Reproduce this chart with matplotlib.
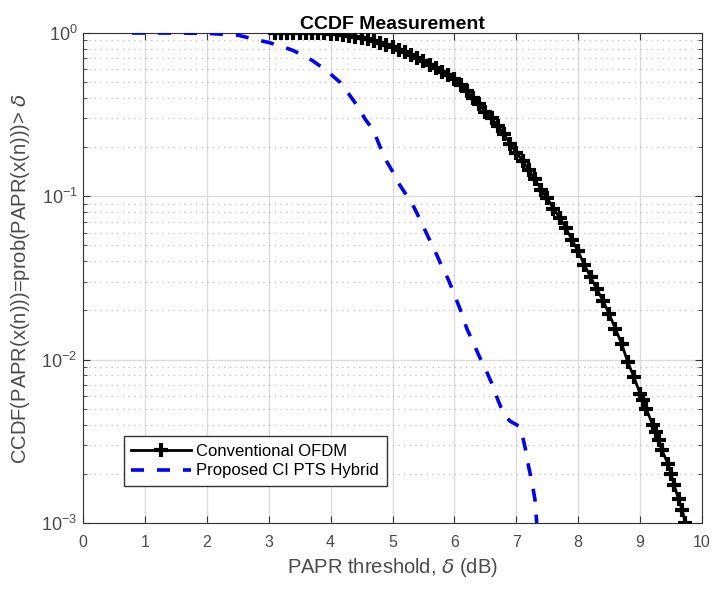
import numpy as np
import matplotlib.pyplot as plt

# data
conv_x = [3.1, 3.2, 3.3, 3.4, 3.5, 3.6, 3.7, 3.8, 3.9, 4.0, 4.1, 4.2, 4.3, 4.4, 4.5,
          4.6, 4.7, 4.8, 4.9, 5.0, 5.1, 5.2, 5.3, 5.4, 5.5, 5.6, 5.7, 5.8, 5.9, 6.0,
          6.1, 6.2, 6.3, 6.4, 6.5, 6.6, 6.7, 6.8, 6.9, 7.0, 7.1, 7.2, 7.3, 7.4, 7.5,
          7.6, 7.7, 7.8, 7.9, 8.0, 8.1, 8.2, 8.3, 8.4, 8.5, 8.6, 8.7, 8.8, 8.9, 9.0,
          9.05, 9.1, 9.2, 9.25, 9.3, 9.35, 9.45, 9.5, 9.55, 9.62, 9.68, 9.73]
conv_y = [1.0, 1.0, 1.0, 1.0, 1.0, 0.999, 0.998, 0.997, 0.995, 0.99, 0.985, 0.975, 0.965, 0.95, 0.935,
          0.915, 0.895, 0.87, 0.845, 0.82, 0.79, 0.76, 0.73, 0.70, 0.67, 0.64, 0.61, 0.58, 0.55, 0.52,
          0.48, 0.44, 0.40, 0.365, 0.33, 0.30, 0.27, 0.24, 0.21, 0.185, 0.165, 0.145, 0.127, 0.11, 0.097,
          0.084, 0.074, 0.064, 0.054, 0.046, 0.038, 0.032, 0.027, 0.023, 0.019, 0.0155, 0.0125, 0.0097, 0.0078, 0.0062,
          0.0057, 0.005, 0.004, 0.0036, 0.0032, 0.0028, 0.0023, 0.002, 0.0017, 0.0014, 0.0012, 0.001]

prop_x = [0.79, 1.5, 2.0, 2.3, 2.5, 2.7, 2.85, 3.0, 3.2, 3.4, 3.55, 3.7, 3.85, 4.0, 4.15,
          4.3, 4.45, 4.55, 4.7, 4.8, 4.9, 5.0, 5.1, 5.2, 5.3, 5.4, 5.5, 5.6, 5.7, 5.8,
          5.9, 6.0, 6.1, 6.2, 6.3, 6.4, 6.5, 6.6, 6.7, 6.8, 6.9, 7.05, 7.1, 7.15, 7.2,
          7.25, 7.3, 7.33]
prop_y = [1.0, 0.999, 0.995, 0.98, 0.97, 0.93, 0.90, 0.875, 0.83, 0.78, 0.73, 0.68, 0.62, 0.56, 0.50,
          0.42, 0.35, 0.30, 0.25, 0.20, 0.165, 0.142, 0.12, 0.105, 0.093, 0.078, 0.065, 0.054, 0.045, 0.037,
          0.031, 0.025, 0.020, 0.0155, 0.0128, 0.0105, 0.0088, 0.0072, 0.0057, 0.0046, 0.0042, 0.0039, 0.0034, 0.0028, 0.0022,
          0.0018, 0.0014, 0.001]

xticks = list(range(0, 11))

plt.rcParams['font.family'] = ['Liberation Sans', 'DejaVu Sans']
plt.rcParams['mathtext.fontset'] = 'dejavusans'

fig = plt.figure(figsize=(7.12, 5.89), dpi=100)
ax = fig.add_axes([0.1166, 0.1121, 0.8694, 0.8319])

ax.semilogy(conv_x, conv_y, color='black', lw=2.0, marker='+', ms=9.5, mew=3.0,
            label='Conventional OFDM', zorder=3)
ax.semilogy(prop_x, prop_y, color='blue', lw=2.6, ls=(0, (3.6, 3.6)),
            label='Proposed CI PTS Hybrid', zorder=3)

ax.set_xlim(0, 10)
ax.set_ylim(1e-3, 1)
ax.set_xticks(xticks)
ax.tick_params(which='both', direction='in', top=True, right=True, colors='#333333',
               labelcolor='#4a4a4a', labelsize=11.5)
ax.tick_params(axis='x', pad=9)
ax.tick_params(axis='y', pad=4, labelsize=13)
ax.tick_params(which='major', length=5)
ax.tick_params(which='minor', length=3)
ax.grid(True, which='major', color='#dcdcdc', lw=1)
ax.grid(True, which='minor', axis='y', color='#bdbdbd', lw=0.9, ls=(0, (1, 3.5)))
for s in ax.spines.values():
    s.set_color('#333333')

ax.set_title('CCDF Measurement', fontsize=14, fontweight='bold', pad=2)
ax.set_xlabel(r'PAPR threshold, $\delta$ (dB)', fontsize=14.5, color='#4a4a4a', labelpad=4)
ax.set_ylabel(r'CCDF(PAPR(x(n)))=prob(PAPR(x(n)))> $\delta$', fontsize=14.5, color='#4a4a4a',
              labelpad=7)

leg = ax.legend(loc='lower left', bbox_to_anchor=(0.0662, 0.0755), borderaxespad=0,
                fontsize=12, fancybox=False, edgecolor='#333333', framealpha=1,
                handlelength=3.6, borderpad=0.45, labelspacing=0.27, handletextpad=0.3)
leg.get_frame().set_linewidth(1)

fig.savefig('out.png', dpi=100)
